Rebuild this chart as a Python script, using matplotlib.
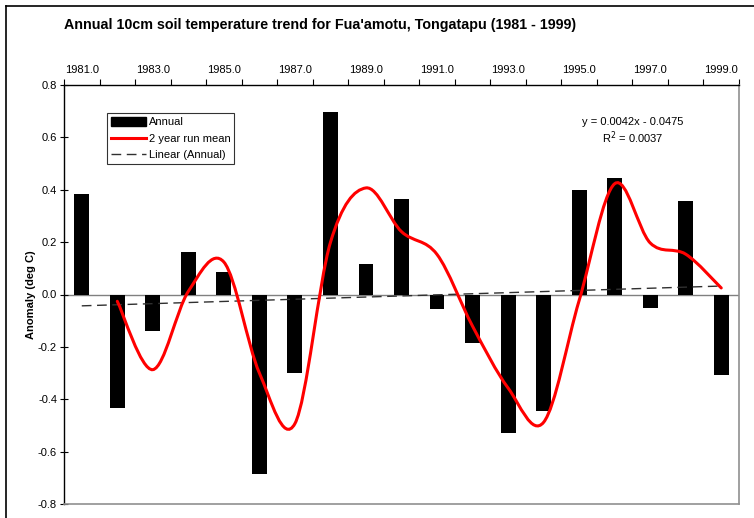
import numpy as np
import matplotlib
matplotlib.use("Agg")
import matplotlib.pyplot as plt
from matplotlib.path import Path
from matplotlib.patches import PathPatch
from matplotlib.lines import Line2D
from matplotlib.patches import Patch

plt.rcParams['font.family'] = ['Liberation Sans', 'DejaVu Sans']

years = list(range(1981, 2000))
annual = [0.382, -0.433, -0.140, 0.163, 0.085, -0.685, -0.300, 0.697, 0.117, 0.363,
          -0.057, -0.184, -0.530, -0.445, 0.400, 0.445, -0.051, 0.358, -0.309]
run_years = list(range(1982, 2000))
run_mean = [-0.026, -0.287, 0.012, 0.124, -0.300, -0.493, 0.199, 0.407, 0.240,
            0.153, -0.121, -0.357, -0.488, -0.023, 0.423, 0.197, 0.154, 0.025]
trend_slope = 0.0042
trend_icept = -0.0475
yticks = [-0.8, -0.6, -0.4, -0.2, 0.0, 0.2, 0.4, 0.6, 0.8]
label_years = [1981, 1983, 1985, 1987, 1989, 1991, 1993, 1995, 1997, 1999]


def smooth_path(xs, ys):
    # excel-ish smoothed line: bezier through points, catmull-rom style handles
    pts = np.column_stack([xs, ys]).astype(float)
    n = len(pts)
    verts = [pts[0]]
    codes = [Path.MOVETO]
    for i in range(n - 1):
        p0 = pts[i - 1] if i > 0 else pts[i]
        p1 = pts[i]
        p2 = pts[i + 1]
        p3 = pts[i + 2] if i + 2 < n else pts[i + 1]
        c1 = p1 + (p2 - p0) / 6.0
        c2 = p2 - (p3 - p1) / 6.0
        verts += [c1, c2, p2]
        codes += [Path.CURVE4] * 3
    return Path(verts, codes)


fig = plt.figure(figsize=(7.54, 5.18), dpi=100)
ax = fig.add_axes([64 / 754, 1 - 504 / 518, 675 / 754, 419 / 518])

# outer chart frame (left and top edges visible)
fig.add_artist(Line2D([6 / 754, 6 / 754], [1 - 6 / 518, 0], color='black', lw=1.2))
fig.add_artist(Line2D([6 / 754, 1], [1 - 6 / 518, 1 - 6 / 518], color='black', lw=1.2))

ax.bar(years, annual, width=0.42, color='black', zorder=2)
ax.axhline(0, color='#808080', lw=1, zorder=1)

tx = np.array([years[0], years[-1]])
ax.plot(tx, trend_slope * (tx - years[0] + 1) + trend_icept, color='#303030',
        lw=1, dashes=(7, 4), zorder=3)

ax.add_patch(PathPatch(smooth_path(run_years, run_mean), facecolor='none',
                       edgecolor='red', lw=2.2, zorder=4, capstyle='round'))

ax.set_xlim(1980.5, 1999.5)
ax.set_ylim(-0.8, 0.8)

ax.xaxis.tick_top()
ax.set_xticks(label_years)
ax.set_xticklabels([f"{y:.1f}" for y in label_years], fontsize=8)
ax.set_xticks(np.arange(1980.5, 1999.6, 1.0), minor=True)
ax.tick_params(axis='x', which='major', length=0, pad=7)
ax.tick_params(axis='x', which='minor', length=4, direction='out', width=0.8)

ax.set_yticks(yticks)
ax.set_yticklabels([f"{v:.1f}" for v in yticks], fontsize=8)
ax.tick_params(axis='y', length=6, direction='inout', width=0.8, pad=2)
ax.set_ylabel("Anomaly (deg C)", fontsize=8, fontweight='bold')
ax.yaxis.set_label_coords(-28 / 675, 0.5)

for s in ['left', 'top']:
    ax.spines[s].set_color('black')
    ax.spines[s].set_linewidth(1)
for s in ['right', 'bottom']:
    ax.spines[s].set_color('#909090')
    ax.spines[s].set_linewidth(1.2)

handles = [Patch(color='black'),
           Line2D([], [], color='red', lw=2.2),
           Line2D([], [], color='#303030', lw=1, dashes=(7, 4))]
leg = ax.legend(handles, ["Annual", "2 year run mean", "Linear (Annual)"],
                loc='upper left', bbox_to_anchor=(43 / 675, 1 - 28 / 419),
                fontsize=8, frameon=True, fancybox=False, edgecolor='black',
                borderpad=0.35, labelspacing=0.55, handlelength=3.2,
                handletextpad=0.2, borderaxespad=0, handleheight=0.9)
leg.get_frame().set_linewidth(0.8)

fig.text(633 / 754, 1 - 122 / 518, "y = 0.0042x - 0.0475", fontsize=8,
         ha='center', va='center')
fig.text(633 / 754, 1 - 138 / 518, "R$^2$ = 0.0037", fontsize=8,
         ha='center', va='center')

fig.text(320 / 754, 1 - 25 / 518,
         "Annual 10cm soil temperature trend for Fua'amotu, Tongatapu (1981 - 1999)",
         fontsize=10.3, fontweight='bold', ha='center', va='center')

fig.savefig("out.png", dpi=100)
